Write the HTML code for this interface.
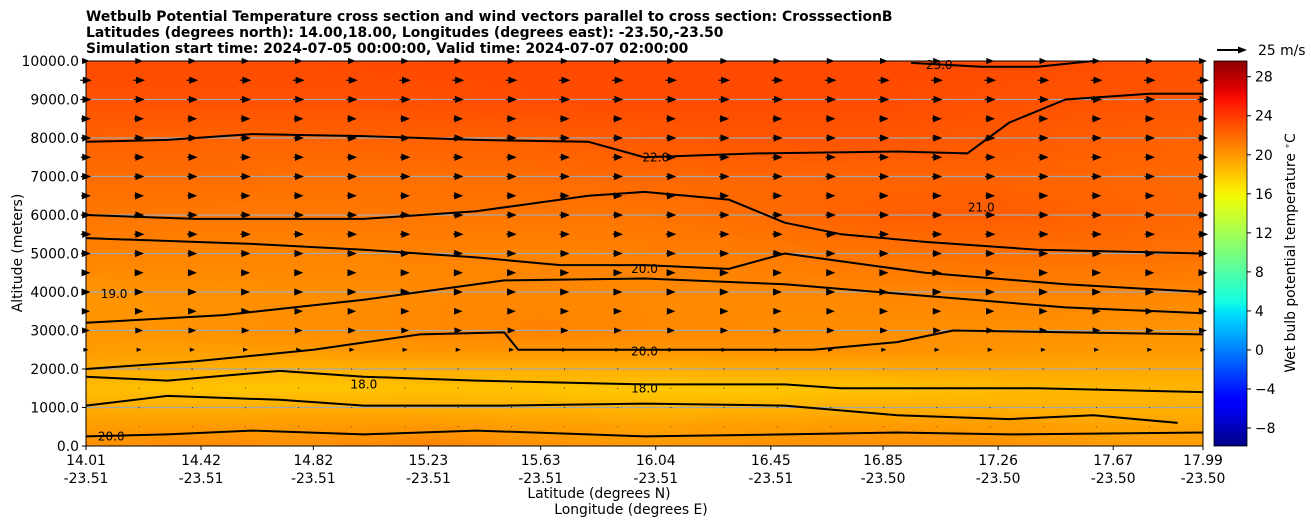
<!DOCTYPE html>
<html><head><meta charset="utf-8"><style>
body{margin:0;background:#fff;width:1311px;height:526px;overflow:hidden;font-family:"DejaVu Sans","Liberation Sans",sans-serif}
#c{position:absolute;left:86px;top:61px}
svg{position:absolute;left:0;top:0}
</style></head><body>
<canvas id="c" width="1117" height="385"></canvas>
<svg id="s" width="1311" height="526" font-family="DejaVu Sans, Liberation Sans, sans-serif"></svg>
<script>
const lats=[14.01,14.42,14.82,15.23,15.63,16.04,16.45,16.85,17.26,17.67,17.99];
const lons=["-23.51","-23.51","-23.51","-23.51","-23.51","-23.51","-23.51","-23.50","-23.50","-23.50","-23.50"];
const alts=[0,500,1000,1500,2000,2500,3000,4000,5000,6000,7000,8000,9000,10000];
const temp=[
[20.3,20.5,20.3,20.8,20.2,19.9,20.2,20.3,20.2,19.8,19.8],
[19.8,19.9,19.9,20.0,19.7,19.6,19.8,19.9,19.8,19.5,19.5],
[19.1,19.0,19.1,19.0,18.9,18.7,18.9,18.9,19.0,18.9,19.0],
[18.4,18.1,18.0,18.3,18.1,17.9,18.0,18.2,18.5,18.7,18.8],
[19.2,19.0,18.8,19.0,19.0,19.0,19.1,19.2,19.3,19.3,19.2],
[19.8,19.7,19.9,20.1,20.1,20.1,20.2,20.2,20.1,19.9,19.9],
[20.1,20.2,20.4,20.6,20.9,20.6,20.5,20.4,20.3,20.2,20.1],
[20.1,20.3,20.4,20.6,20.7,20.6,20.6,20.7,20.8,20.8,20.7],
[20.9,20.8,20.8,20.9,20.8,21.0,21.2,21.5,21.7,21.7,21.6],
[21.4,21.3,21.3,21.4,21.4,21.5,21.9,22.4,22.5,22.2,22.0],
[21.8,21.8,21.7,21.7,21.8,22.0,22.1,22.2,22.2,22.1,22.0],
[22.3,22.2,22.2,22.3,22.4,22.7,22.8,22.8,22.6,22.4,22.3],
[23.0,23.0,23.0,23.1,23.2,23.2,23.2,23.2,23.0,22.9,22.8],
[23.2,23.2,23.2,23.3,23.3,23.3,23.3,23.3,23.2,23.1,23.0]];
const windAlts=[0,500,1000,1500,2000,2500,3000,3500,4000,4500,5000,5500,6000,6500,7000,7500,8000,8500,9000,9500,10000];
const windSpeed=[0.5,0.5,0.8,0.8,1,4,6,6.5,7,7,7.5,8,8,7.5,8,8,8,7.5,8.5,9,6];
const yTicks=[0,1000,2000,3000,4000,5000,6000,7000,8000,9000,10000];
const cbTicks=[-8,-4,0,4,8,12,16,20,24,28];
const contours=[
 {label:"22.0",lx:16.04,la:7500,pts:[[14.01,7900],[14.3,7950],[14.6,8100],[15.0,8050],[15.4,7950],[15.8,7900],[16.0,7500],[16.4,7600],[16.9,7650],[17.15,7600],[17.3,8400],[17.5,9000],[17.8,9150],[17.99,9150]]},
 {label:"23.0",lx:17.05,la:9900,pts:[[16.95,9950],[17.2,9850],[17.4,9850],[17.6,10000]]},
 {label:"21.0",lx:17.2,la:6200,pts:[[14.01,6000],[14.4,5900],[15.0,5900],[15.4,6100],[15.8,6500],[16.0,6600],[16.3,6400],[16.5,5800],[16.7,5500],[17.0,5300],[17.4,5100],[17.99,5000]]},
 {label:"20.0",lx:16.0,la:4600,pts:[[14.01,5400],[14.6,5250],[15.0,5100],[15.4,4900],[15.7,4700],[16.0,4700],[16.3,4600],[16.5,5000],[16.7,4800],[17.0,4500],[17.5,4200],[17.99,4000]]},
 {label:"19.0",lx:14.11,la:3950,pts:[[14.01,3200],[14.5,3400],[15.0,3800],[15.5,4300],[16.0,4350],[16.5,4200],[17.0,3900],[17.5,3600],[17.99,3450]]},
 {label:"20.0",lx:16.0,la:2450,pts:[[14.01,2000],[14.4,2200],[14.82,2500],[15.2,2900],[15.5,2950],[15.55,2500],[16.0,2500],[16.6,2500],[16.9,2700],[17.1,3000],[17.99,2900]]},
 {label:"18.0",lx:15.0,la:1600,pts:[[14.01,1800],[14.3,1700],[14.7,1950],[15.0,1800],[15.4,1700],[16.0,1600],[16.5,1600],[16.7,1500],[16.9,1500],[17.4,1500],[17.99,1400]]},
 {label:"18.0",lx:16.0,la:1500,pts:[[14.01,1050],[14.3,1300],[14.7,1200],[15.0,1050],[15.5,1050],[16.0,1100],[16.5,1050],[16.9,800],[17.3,700],[17.6,800],[17.9,600]]},
 {label:"20.0",lx:14.1,la:250,pts:[[14.01,250],[14.3,300],[14.6,400],[15.0,300],[15.4,400],[15.8,300],[16.0,250],[16.5,300],[16.9,350],[17.3,300],[17.99,350]]}];
const X0=86,X1=1203,Y0=446,Y1=61;
const xs=v=>X0+(v-14.01)/(17.99-14.01)*(X1-X0);
const ys=a=>Y0-a/10000*(Y0-Y1);
const cbY=v=>76.7+(28-v)*(428-76.7)/36;
function seg(t,pts){for(let i=0;i<pts.length-1;i++){if(t<=pts[i+1][0]){const f=(t-pts[i][0])/(pts[i+1][0]-pts[i][0]);return pts[i][1]+f*(pts[i+1][1]-pts[i][1]);}}return pts[pts.length-1][1];}
function jet(t){t=Math.max(0,Math.min(1,t));
 const r=seg(t,[[0,0],[0.35,0],[0.66,1],[0.89,1],[1,0.5]]);
 const g=seg(t,[[0,0],[0.125,0],[0.375,1],[0.64,1],[0.91,0],[1,0]]);
 const b=seg(t,[[0,0.5],[0.11,1],[0.34,1],[0.65,0],[1,0]]);
 return [Math.round(r*255),Math.round(g*255),Math.round(b*255)];}
const tn=v=>(v+10)/40;
function interp(arr,v){let i=0;while(i<arr.length-2&&arr[i+1]<v)i++;return [i,(v-arr[i])/(arr[i+1]-arr[i])];}
const ctx=document.getElementById('c').getContext('2d');
const img=ctx.createImageData(1117,385);
for(let py=0;py<385;py++){const a=(385-py)/385*10000;const [ri,rf]=interp(alts,a);
 for(let px=0;px<1117;px++){const la=14.01+px/1117*(17.99-14.01);const [ci,cf]=interp(lats,la);
  const v=(temp[ri][ci]*(1-cf)+temp[ri][ci+1]*cf)*(1-rf)+(temp[ri+1][ci]*(1-cf)+temp[ri+1][ci+1]*cf)*rf;
  const col=jet(tn(v));const k=(py*1117+px)*4;img.data[k]=col[0];img.data[k+1]=col[1];img.data[k+2]=col[2];img.data[k+3]=255;}}
ctx.putImageData(img,0,0);
const S=document.getElementById('s');const NS='http://www.w3.org/2000/svg';
function el(t,at,txt){const e=document.createElementNS(NS,t);for(const k in at)e.setAttribute(k,at[k]);if(txt!==undefined)e.textContent=txt;S.appendChild(e);return e;}
yTicks.forEach(a=>{if(a>0&&a<10000){const g=el('line',{x1:X0,x2:X1,y1:ys(a),y2:ys(a),stroke:'#a8a8a8','stroke-width':1.3});

}});
contours.forEach(c=>{const d=c.pts.map((p,i)=>(i?'L':'M')+xs(p[0]).toFixed(1)+','+ys(p[1]).toFixed(1)).join('');
 const p=el('path',{d:d,fill:'none',stroke:'#000','stroke-width':2,'stroke-linejoin':'round'});
 
 
 const t=el('text',{x:xs(c.lx),y:ys(c.la)+4,'font-size':12,'text-anchor':'middle'},c.label);
 
 });
for(let j=0;j<22;j++){const x=X0+j*(X1-X0)/21;
 windAlts.forEach((a,i)=>{const L=windSpeed[i]*1.3;const y=ys(a);const hl=Math.min(L,9);const h=Math.max(0.8,hl*0.4);
  const ar=el('path',{d:`M${x+L/2},${y}L${x+L/2-hl},${y-h}L${x+L/2-hl},${y+h}Z`,fill:'#000'});
  
  
  if(L>9){const sh=el('line',{x1:x-L/2,x2:x+L/2-8,y1:y,y2:y,stroke:'#000','stroke-width':1.2});
  
  }});}
const fr=el('rect',{x:X0,y:Y1,width:X1-X0,height:Y0-Y1,fill:'none',stroke:'#000','stroke-width':1});


yTicks.forEach(a=>{el('line',{x1:X0-4,x2:X0,y1:ys(a),y2:ys(a),stroke:'#000'});
 const t=el('text',{x:X0-7,y:ys(a)+5,'font-size':13.9,'text-anchor':'end'},a.toFixed(1));
 
 });
lats.forEach((v,i)=>{el('line',{x1:xs(v),x2:xs(v),y1:Y0,y2:Y0+4,stroke:'#000'});
 const t=el('text',{x:xs(v),y:465,'font-size':13.9,'text-anchor':'middle'},v.toFixed(2));
 
 
 const t2=el('text',{x:xs(v),y:483,'font-size':13.9,'text-anchor':'middle'},lons[i]);
 
 });
const defs=el('defs',{});const lg=document.createElementNS(NS,'linearGradient');lg.setAttribute('id','g');lg.setAttribute('x1',0);lg.setAttribute('y1',1);lg.setAttribute('x2',0);lg.setAttribute('y2',0);defs.appendChild(lg);
const vb=-8-(446-428)/9.76, vt=28+(76.7-61)/9.76;
for(let i=0;i<=40;i++){const v=vb+(vt-vb)*i/40;const c=jet(tn(v));const st=document.createElementNS(NS,'stop');st.setAttribute('offset',i/40);st.setAttribute('stop-color',`rgb(${c})`);lg.appendChild(st);}
const cb=el('rect',{x:1214,y:61,width:33,height:385,fill:'url(#g)',stroke:'#000','stroke-width':0.8});


cbTicks.forEach(v=>{el('line',{x1:1247,x2:1251,y1:cbY(v),y2:cbY(v),stroke:'#000'});
 const t=el('text',{x:1255,y:cbY(v)+5,'font-size':13.9},v<0?'\u2212'+(-v):String(v));
 
 });
</script>
<svg width="1311" height="526" style="pointer-events:none" font-family="DejaVu Sans, Liberation Sans, sans-serif">
<g font-size="13.9" font-weight="bold">
<text x="86" y="21">Wetbulb Potential Temperature cross section and wind vectors parallel to cross section: CrosssectionB</text>
<text x="86" y="37">Latitudes (degrees north): 14.00,18.00, Longitudes (degrees east): -23.50,-23.50</text>
<text x="86" y="53">Simulation start time: 2024-07-05 00:00:00, Valid time: 2024-07-07 02:00:00</text>
</g>
<text x="22" y="253" font-size="13.9" text-anchor="middle" transform="rotate(-90 22 253)">Altitude (meters)</text>
<text x="599" y="498" font-size="13.9" text-anchor="middle">Latitude (degrees N)</text>
<text x="631" y="514" font-size="13.9" text-anchor="middle">Longitude (degrees E)</text>
<text x="1295" y="253" font-size="13.9" text-anchor="middle" transform="rotate(-90 1295 253)">Wet bulb potential temperature <tspan baseline-shift="super" font-size="9">∘</tspan>C</text>
<g>
<line x1="1217" y1="50" x2="1240" y2="50" stroke="#000" stroke-width="2"/>
<path d="M1247,50L1238,46.5L1238,53.5Z" fill="#000"/>
<text x="1258" y="55" font-size="13.9">25 m/s</text>
</g>
</svg>
</body></html>
